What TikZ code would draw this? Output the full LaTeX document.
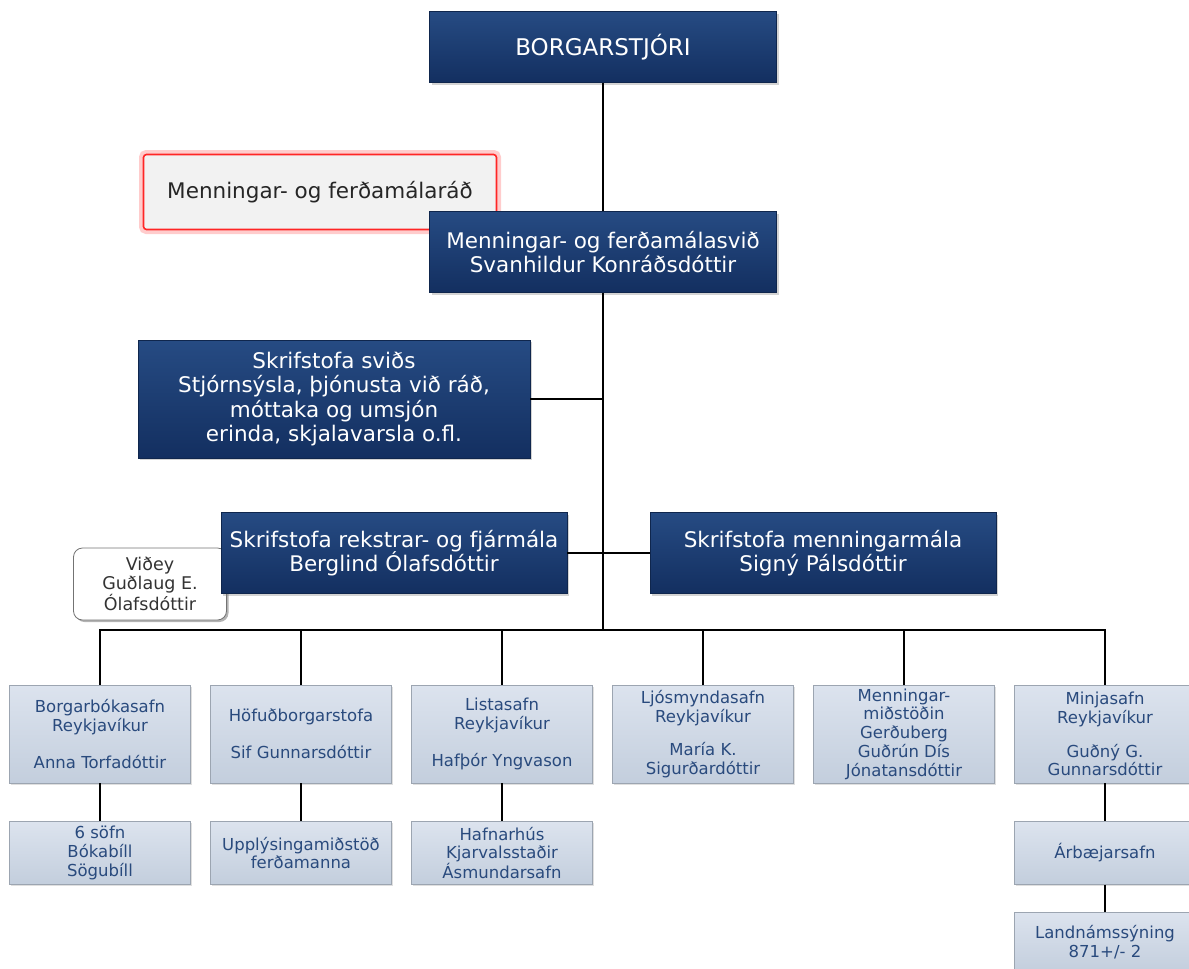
\documentclass[tikz,border=0pt]{standalone}
\usepackage{fontspec}
\setmainfont{DejaVu Sans}
\usetikzlibrary{shadows}
\definecolor{navytop}{HTML}{264B83}
\definecolor{navybot}{HTML}{132F60}
\definecolor{paletop}{HTML}{DCE3EE}
\definecolor{palebot}{HTML}{C3CEDD}
\definecolor{paletext}{HTML}{294A7D}
\tikzset{
  navybox/.style={rectangle, top color=navytop, bottom color=navybot, draw=navybot!80!black, text=white, align=center, font=\fontsize{21.5}{24.5}\selectfont, inner sep=2pt, drop shadow={shadow xshift=2pt, shadow yshift=-2pt, opacity=0.35}},
  palebox/.style={rectangle, top color=paletop, bottom color=palebot, draw=palebot!80!black, text=paletext, align=center, font=\fontsize{16.5}{18.7}\selectfont, inner sep=1pt, minimum width=181pt, drop shadow={shadow xshift=1.5pt, shadow yshift=-1.5pt, opacity=0.25}},
  link/.style={draw=black, line width=1.4pt}
}
\begin{document}
\begin{tikzpicture}[x=1pt, y=-1pt]
  \useasboundingbox (0,0) rectangle (1189,969);
  \node[navybox, minimum width=347pt, minimum height=71pt, font=\fontsize{23}{26}\selectfont] (mayor) at (603,47) {BORGARSTJÓRI};
  \node[rectangle, rounded corners=3pt, fill=black!5, draw=red!85, line width=1.6pt, preaction={draw=red!20, line width=9pt, rounded corners=6pt}, minimum width=353pt, minimum height=75pt, font=\fontsize{21.5}{24}\selectfont, text=black!85] (council) at (320,192) {Menningar- og ferðamálaráð};
  \node[navybox, minimum width=347pt, minimum height=81pt] (dept) at (603,252) {Menningar- og ferðamálasvið\\Svanhildur Konráðsdóttir};
  \node[navybox, minimum width=392pt, minimum height=118pt] (office) at (334,399) {Skrifstofa sviðs\\Stjórnsýsla, þjónusta við ráð,\\móttaka og umsjón\\erinda, skjalavarsla o.fl.};
  \node[rectangle, rounded corners=9pt, fill=white, draw=black!55, line width=0.8pt, align=center, minimum width=153pt, minimum height=72pt, font=\fontsize{17.5}{18.5}\selectfont, text=black!80, drop shadow={shadow xshift=2pt, shadow yshift=-2pt, opacity=0.6}] (videy) at (150,584) {Viðey\\Guðlaug E.\\Ólafsdóttir};
  \node[navybox, minimum width=346pt, minimum height=81pt] (finance) at (394,553) {Skrifstofa rekstrar- og fjármála\\Berglind Ólafsdóttir};
  \node[navybox, minimum width=346pt, minimum height=81pt] (culture) at (823,553) {Skrifstofa menningarmála\\Signý Pálsdóttir};
  \coordinate (bus) at (603,630);
  \node[palebox, minimum height=98pt] (lib) at (100,734) {Borgarbókasafn\\Reykjavíkur\\[18.7pt]Anna Torfadóttir};
  \node[palebox, minimum height=98pt] (capital) at (301,734) {Höfuðborgarstofa\\[18.7pt]Sif Gunnarsdóttir};
  \node[palebox, minimum height=98pt] (art) at (502,734) {Listasafn\\Reykjavíkur\\[18.7pt]Hafþór Yngvason};
  \node[palebox, minimum height=98pt] (photo) at (703,734) {Ljósmyndasafn\\Reykjavíkur\\[15pt]María K.\\Sigurðardóttir};
  \node[palebox, minimum height=98pt] (gerduberg) at (904,734) {Menningar-\\miðstöðin\\Gerðuberg\\Guðrún Dís\\Jónatansdóttir};
  \node[palebox, minimum height=98pt] (museum) at (1105,734) {Minjasafn\\Reykjavíkur\\[15pt]Guðný G.\\Gunnarsdóttir};
  \node[palebox, minimum height=63pt] (libsub) at (100,853) {6 söfn\\Bókabíll\\Sögubíll};
  \node[palebox, minimum height=63pt] (info) at (301,853) {Upplýsingamiðstöð\\ferðamanna};
  \node[palebox, minimum height=63pt] (artsub) at (502,853) {Hafnarhús\\Kjarvalsstaðir\\Ásmundarsafn};
  \node[palebox, minimum height=63pt] (arbaer) at (1105,853) {Árbæjarsafn};
  \node[palebox, minimum height=60pt] (settle) at (1105,942) {Landnámssýning\\871+/- 2};
  \draw[link] (mayor) -- (dept);
  \draw[link] (dept) -- (bus);
  \draw[link] (office.east) -- (office.east -| dept.south);
  \draw[link] (finance.east) -- (culture.west);
  \draw[link] (lib.north) |- (museum.north |- bus) -- (museum.north);
  \foreach \col in {capital, art, photo, gerduberg}
    \draw[link] (\col.north) -- (\col.north |- bus);
  \draw[link] (lib) -- (libsub);
  \draw[link] (capital) -- (info);
  \draw[link] (art) -- (artsub);
  \draw[link] (museum) -- (arbaer);
  \draw[link] (arbaer) -- (settle);
\end{tikzpicture}
\end{document}
